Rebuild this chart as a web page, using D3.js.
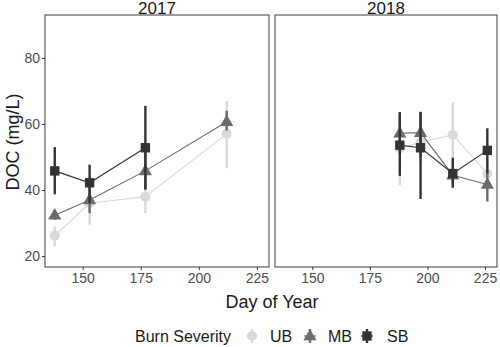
<!DOCTYPE html>
<html><head><meta charset="utf-8">
<script src="https://cdn.jsdelivr.net/npm/d3@7"></script>
<style>body{margin:0;background:#fff}svg{display:block}text{font-family:Arial,"Liberation Sans",sans-serif}</style>
</head><body><svg id="c" width="500" height="347"></svg>
<script>
const years = ["2017", "2018"];
const severities = ["UB", "MB", "SB"];
const colors = ["#d9d9d9", "#6b6b6b", "#333333"];
const xTicks = [150, 175, 200, 225];
const yTicks = [20, 40, 60, 80];

const days2017 = [138, 153, 177, 212];
const ub2017 = [26.2, 36, 38, 57];
const ub2017Lo = [23, 29.5, 33, 46.6];
const ub2017Hi = [29, 42, 43, 67];
const mb2017 = [32.4, 37, 45.8, 60.7];
const mb2017Lo = [31, 33, 40, 58];
const mb2017Hi = [34, 41, 52, 64];
const sbDays2017 = [138, 153, 177];
const sb2017 = [45.8, 42.2, 52.8];
const sb2017Lo = [38.7, 36, 40.3];
const sb2017Hi = [53, 47.7, 65.5];

const days2018 = [188, 197, 211, 226];
const ub2018 = [52.6, 54.5, 56.7, 45];
const ub2018Lo = [41.5, 48, 44, 41];
const ub2018Hi = [58, 60, 66.5, 49];
const mb2018 = [57.2, 57.4, 44.5, 41.7];
const mb2018Lo = [52, 50, 42, 36.5];
const mb2018Hi = [63.5, 63.5, 47, 46];
const sb2018 = [53.6, 52.8, 45, 52];
const sb2018Lo = [44.3, 37.3, 40.7, 45];
const sb2018Hi = [63.6, 63.7, 49.8, 58.7];

function mk(days, v, lo, hi){ return days.map((d,i)=>({x:d,y:v[i],lo:lo[i],hi:hi[i]})); }
const panels = [
  {year: years[0], left: 45, right: 269, series: [
    mk(days2017, ub2017, ub2017Lo, ub2017Hi),
    mk(days2017, mb2017, mb2017Lo, mb2017Hi),
    mk(sbDays2017, sb2017, sb2017Lo, sb2017Hi)]},
  {year: years[1], left: 275, right: 497, series: [
    mk(days2018, ub2018, ub2018Lo, ub2018Hi),
    mk(days2018, mb2018, mb2018Lo, mb2018Hi),
    mk(days2018, sb2018, sb2018Lo, sb2018Hi)]}
];

const svg = d3.select("#c");
const plotTop = 15, plotBottom = 267;
const y = d3.scaleLinear().domain([16.7, 93]).range([plotBottom, plotTop]);
const xDomain = [133.8, 230.2];

function symbol(g, k, cx, cy, col, scale){
  scale = scale || 1;
  if (k === 0) g.append("circle").attr("cx",cx).attr("cy",cy).attr("r",5*scale).attr("fill",col);
  else if (k === 1) g.append("path").attr("d", d3.symbol().type(d3.symbolTriangle).size(75*scale*scale)()).attr("transform",`translate(${cx},${cy+0.5})`).attr("fill",col);
  else g.append("rect").attr("x",cx-4.7*scale).attr("y",cy-4.7*scale).attr("width",9.4*scale).attr("height",9.4*scale).attr("fill",col);
}

panels.forEach((p, pi) => {
  const x = d3.scaleLinear().domain(xDomain).range([p.left, p.right]);
  const g = svg.append("g");
  p.series.forEach((s, k) => {
    g.append("path").datum(s).attr("fill","none").attr("stroke",colors[k]).attr("stroke-width",1.1)
      .attr("d", d3.line().x(d=>x(d.x)).y(d=>y(d.y)));
  });
  p.series.forEach((s, k) => {
    s.forEach(d => {
      g.append("line").attr("x1",x(d.x)).attr("x2",x(d.x)).attr("y1",y(d.lo)).attr("y2",y(d.hi))
        .attr("stroke",colors[k]).attr("stroke-width",2.4);
      symbol(g, k, x(d.x), y(d.y), colors[k]);
    });
  });
  svg.append("rect").attr("x",p.left).attr("y",plotTop).attr("width",p.right-p.left).attr("height",plotBottom-plotTop)
    .attr("fill","none").attr("stroke","#4d4d4d").attr("stroke-width",1.1);
  svg.append("text").attr("x",(p.left+p.right)/2).attr("y",plotTop-1).attr("text-anchor","middle")
    .attr("font-size",17).attr("fill","#1a1a1a").text(p.year);
  const ax = svg.append("g").attr("transform",`translate(0,${plotBottom})`)
    .call(d3.axisBottom(x).tickValues(xTicks).tickSize(3).tickPadding(3));
  ax.select(".domain").remove();
  ax.selectAll("line").attr("stroke","#333");
  ax.selectAll("text").attr("font-size",14).attr("fill","#4d4d4d").attr("font-family","Arial, Liberation Sans, sans-serif");
  if (pi === 0){
    const ay = svg.append("g").attr("transform",`translate(${p.left},0)`)
      .call(d3.axisLeft(y).tickValues(yTicks).tickSize(3).tickPadding(2));
    ay.select(".domain").remove();
    ay.selectAll("line").attr("stroke","#333");
    ay.selectAll("text").attr("font-size",14).attr("fill","#4d4d4d").attr("font-family","Arial, Liberation Sans, sans-serif");
  }
});

svg.append("text").attr("x",272).attr("y",308).attr("text-anchor","middle").attr("font-size",18).attr("fill","#1a1a1a").text("Day of Year");
svg.append("text").attr("transform","translate(19,142) rotate(-90)").attr("text-anchor","middle").attr("font-size",18).attr("fill","#1a1a1a").text("DOC (mg/L)");

const lg = svg.append("g");
const ly = 336;
lg.append("text").attr("x",135).attr("y",ly+6).attr("font-size",16).attr("fill","#1a1a1a").text("Burn Severity");
const keyX = [252, 310, 367];
const labX = [270, 328, 387];
severities.forEach((s, k) => {
  const cx = keyX[k];
  lg.append("line").attr("x1",cx-6).attr("x2",cx+6).attr("y1",ly).attr("y2",ly).attr("stroke",colors[k]).attr("stroke-width",1.1);
  lg.append("line").attr("x1",cx).attr("x2",cx).attr("y1",ly-7).attr("y2",ly+7).attr("stroke",colors[k]).attr("stroke-width",2.4);
  symbol(lg, k, cx, ly, colors[k]);
  lg.append("text").attr("x",labX[k]).attr("y",ly+6).attr("font-size",16).attr("fill","#1a1a1a").text(s);
});
</script></body></html>
